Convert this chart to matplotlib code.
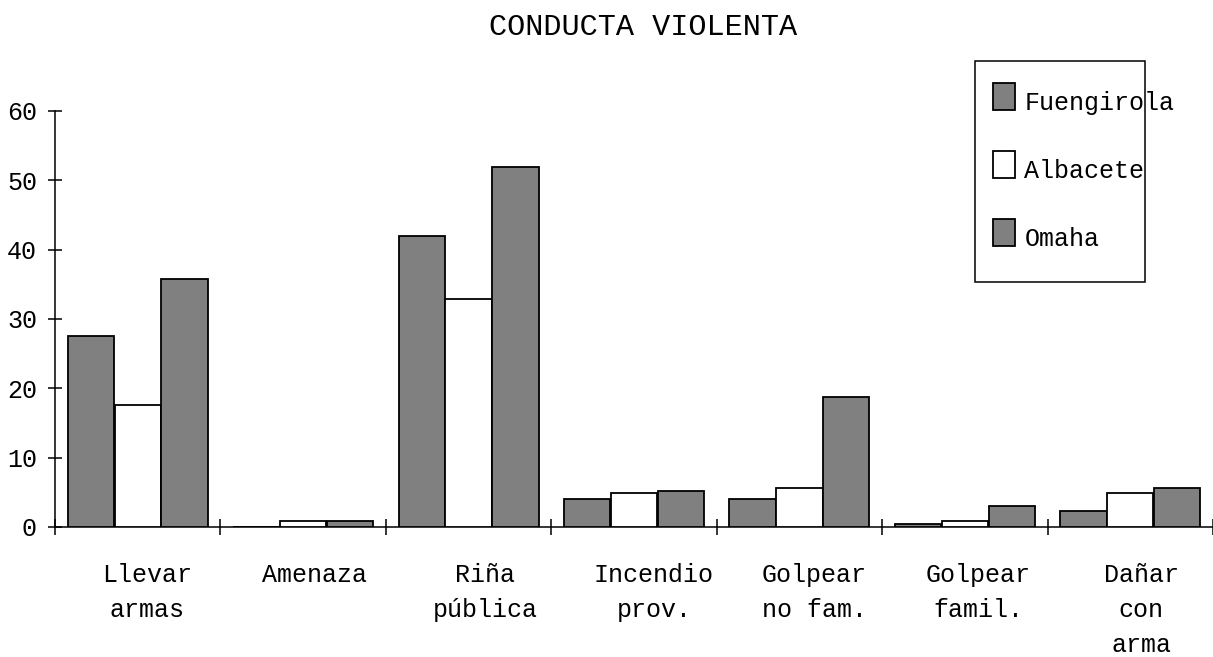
import matplotlib
matplotlib.use("Agg")
import matplotlib.pyplot as plt
from matplotlib.patches import Rectangle
from matplotlib.legend_handler import HandlerPatch
import numpy as np

categories = ["Llevar\narmas", "Amenaza", "Riña\npública", "Incendio\nprov.",
              "Golpear\nno fam.", "Golpear\nfamil.", "Dañar\ncon\narma"]
series_names = ["Fuengirola", "Albacete", "Omaha"]
fuengirola = [27.5, 0.0, 42.0, 4.1, 4.1, 0.5, 2.3]
albacete = [17.6, 0.9, 32.9, 4.9, 5.6, 0.9, 4.9]
omaha = [35.8, 0.9, 51.9, 5.2, 18.7, 3.0, 5.6]
yticks = [0, 10, 20, 30, 40, 50, 60]
title = "CONDUCTA VIOLENTA"

# small horizontal nudges of the category labels (layout only)
label_nudge = [0.055, 0.07, 0.1, 0.12, 0.09, 0.08, 0.065]

FONT = "Liberation Mono"
FS = 18.0
W, H = 1213, 657
fig = plt.figure(figsize=(W / 100, H / 100), dpi=100)
ax = fig.add_axes([55 / W, 1 - 527 / H, (1213 - 55) / W, (527 - 111) / H])

x = np.arange(len(categories))
bw = 0.28
off = 0.283
colors = ["#808080", "#ffffff", "#808080"]
bars = []
for k, vals in enumerate([fuengirola, albacete, omaha]):
    b = ax.bar(x + (k - 1) * off, vals, width=bw, color=colors[k],
               edgecolor="black", linewidth=1.3, label=series_names[k], zorder=3)
    bars.append(b)

ax.set_xlim(-0.5, len(categories) - 0.5)
ax.set_ylim(0, 60)
for s in ["top", "right"]:
    ax.spines[s].set_visible(False)
for s in ["left", "bottom"]:
    ax.spines[s].set_linewidth(1.1)

ax.set_yticks(yticks)
ax.set_yticklabels([str(v) for v in yticks], fontfamily=FONT, fontsize=FS)
ax.tick_params(axis="y", direction="inout", length=10, width=1.1, pad=8)

ax.set_xticks(np.arange(len(categories) + 1) - 0.5)
ax.set_xticklabels([])
ax.tick_params(axis="x", which="major", direction="inout", length=11.5, width=1.1)
ax.set_xticks(x + np.array(label_nudge), minor=True)
ax.set_xticklabels(categories, minor=True, fontfamily=FONT, fontsize=FS,
                   linespacing=1.58, multialignment="center")
ax.tick_params(axis="x", which="minor", length=0, pad=26)

fig.text(643 / W, 1 - 27 / H, title, ha="center", va="center",
         fontfamily=FONT, fontsize=21.8)

# legend frame
fig.patches.append(Rectangle((975 / W, 1 - 282 / H), (1145 - 975) / W, (282 - 61) / H,
                             transform=fig.transFigure, fill=False,
                             edgecolor="black", linewidth=1.1, zorder=1))


def tall_box(legend, orig_handle, xdescent, ydescent, width, height, fontsize):
    # box sits on the text baseline, taller than the text
    return Rectangle((-xdescent, -ydescent), 15.8, 19.4)


handles = [b.patches[0] for b in bars]
leg = ax.legend(handles=handles, labels=series_names, loc="upper left",
                bbox_to_anchor=(993 / W, 1 - 91 / H), bbox_transform=fig.transFigure,
                frameon=False, borderpad=0, borderaxespad=0,
                handlelength=0.88, handleheight=0.7, handletextpad=0.38,
                labelspacing=1.75, prop={"family": FONT, "size": FS},
                handler_map={Rectangle: HandlerPatch(patch_func=tall_box)})

fig.savefig("out.png", dpi=100)
